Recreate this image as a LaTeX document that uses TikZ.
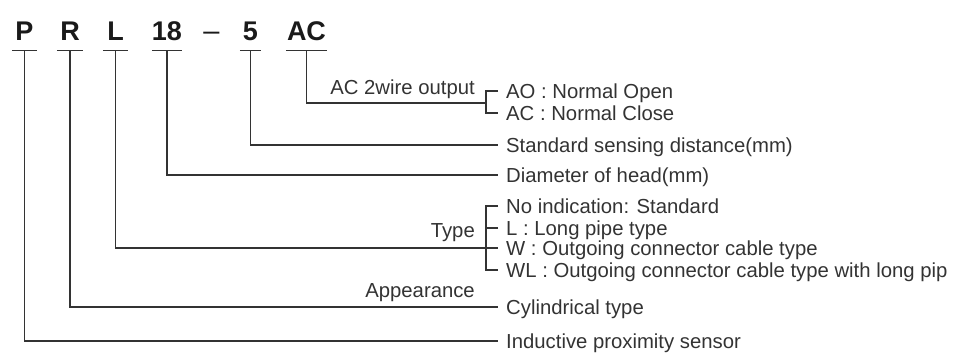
\documentclass[tikz,border=0pt]{standalone}
\usepackage{fontspec}
\setmainfont{Liberation Sans}
\usepackage{tikz}
\definecolor{inkgray}{HTML}{333333}
\definecolor{codeblack}{HTML}{1A1A1A}

\begin{document}
\begin{tikzpicture}[x=1pt, y=-1pt,
    code/.style={inner sep=0pt, text height=19pt, text depth=10pt, text=codeblack,
                 font=\fontsize{27}{30}\selectfont\bfseries},
    item/.style={anchor=west, inner xsep=8pt, inner ysep=0pt, text height=14.5pt, text depth=0pt,
                 text=inkgray, font=\fontsize{20.3}{22}\selectfont},
    group/.style={anchor=base east, inner sep=0pt, text=inkgray, font=\fontsize{20.3}{22}\selectfont},
    wire/.style={draw=inkgray, line width=1.1pt}]
    \useasboundingbox (0,0) rectangle (959,364);

    % Model code
    \node[code, anchor=base, minimum width=25pt] (cP) at (24.5,40) {P};
    \node[code, anchor=base, minimum width=26pt] (cR) at (70,40) {R};
    \node[code, anchor=base, minimum width=25pt] (cL) at (115.5,40) {L};
    \node[code, anchor=base, minimum width=30pt] (c18) at (167,40) {18};
    \node[code, anchor=base, font=\fontsize{29}{30}\selectfont] (cdash) at (211.5,40) {\textendash};
    \node[code, anchor=base, minimum width=21pt] (c5) at (250.5,40) {5};
    \node[code, anchor=base, minimum width=41pt] (cAC) at (306.5,40) {AC};
    \foreach \c in {cP,cR,cL,c18,c5,cAC}
        \draw[wire] (\c.south west) -- (\c.south east);

    % Output
    \node[group] (acout) at (475,94) {AC 2wire output};
    \node[item] (ao) at (498,91) {AO : Normal Open};
    \node[item] (acl) at (498,113) {AC : Normal Close};
    \coordinate (acbr) at (486,103);
    \draw[wire] (cAC.south) |- (acbr);
    \draw[wire] (ao.west) -| (acbr) |- (acl.west);

    % Distance and diameter
    \node[item] (dist) at (498,145) {Standard sensing distance(mm)};
    \node[item] (dia) at (498,175) {Diameter of head(mm)};
    \draw[wire] (c5.south) |- (dist.west);
    \draw[wire] (c18.south) |- (dia.west);

    % Type
    \node[group] (typelbl) at (475,237) {Type};
    \node[item] (noind) at (498,206) {No indication: Standard};
    \node[item] (ltype) at (498,228) {L : Long pipe type};
    \node[item] (wtype) at (498,248) {W : Outgoing connector cable type};
    \node[item] (wltype) at (498,270) {WL : Outgoing connector cable type with long pip};
    \coordinate (typebr) at (486,248);
    \draw[wire] (cL.south) |- (wtype.west);
    \draw[wire] (noind.west) -| (typebr) |- (wltype.west);
    \draw[wire] (ltype.west) -- (ltype.west -| typebr);

    % Appearance and sensor
    \node[group] (appear) at (475,297) {Appearance};
    \node[item] (cyl) at (498,307) {Cylindrical type};
    \node[item] (ind) at (498,341) {Inductive proximity sensor};
    \draw[wire] (cR.south) |- (cyl.west);
    \draw[wire] (cP.south) |- (ind.west);
\end{tikzpicture}
\end{document}
